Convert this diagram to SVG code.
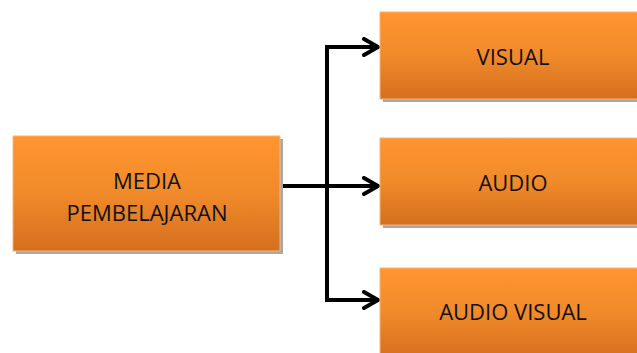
<svg xmlns="http://www.w3.org/2000/svg" width="637" height="353" viewBox="0 0 637 353">
<defs>
<linearGradient id="g" x1="0" y1="0" x2="0" y2="1">
<stop offset="0" stop-color="#FF952E"/>
<stop offset="0.5" stop-color="#F08A2A"/>
<stop offset="1" stop-color="#D46F1E"/>
</linearGradient>
<marker id="arr" viewBox="0 0 20 20" refX="18" refY="10" markerWidth="20" markerHeight="20" markerUnits="userSpaceOnUse" orient="auto">
<path d="M3,2 L17,10 L3,18" fill="none" stroke="#000" stroke-width="4" stroke-linecap="round" stroke-linejoin="round"/>
</marker>
</defs>
<style>
.box{fill:url(#g);stroke:#F9B47A;stroke-width:1}
.sh{fill:#A8A8A8}
.t{font-family:"Open Sans","Liberation Sans",sans-serif;font-size:22px;fill:#111;text-anchor:middle}
.c{fill:none;stroke:#000;stroke-width:4;stroke-linejoin:miter}
</style>
<g id="connectors">
<path class="c" d="M280,186 H379" marker-end="url(#arr)"/>
<path class="c" d="M370,47 H327 V300 H370"/>
<path class="c" d="M360,47 H379" marker-end="url(#arr)"/>
<path class="c" d="M360,300 H379" marker-end="url(#arr)"/>
</g>
<g id="media">
<rect class="sh" x="16" y="139" width="267" height="115"/>
<rect class="box" x="13" y="136" width="267" height="115"/>
<text class="t" x="147" y="189">MEDIA</text>
<text class="t" x="147" y="221">PEMBELAJARAN</text>
</g>
<g id="visual">
<rect class="sh" x="383" y="15" width="267" height="87"/>
<rect class="box" x="380" y="12" width="267" height="87"/>
<text class="t" x="513" y="65">VISUAL</text>
</g>
<g id="audio">
<rect class="sh" x="383" y="141" width="267" height="87"/>
<rect class="box" x="380" y="138" width="267" height="87"/>
<text class="t" x="513" y="191">AUDIO</text>
</g>
<g id="audiovisual">
<rect class="sh" x="383" y="271" width="267" height="90"/>
<rect class="box" x="380" y="268" width="267" height="90"/>
<text class="t" x="513" y="320">AUDIO VISUAL</text>
</g>
</svg>
